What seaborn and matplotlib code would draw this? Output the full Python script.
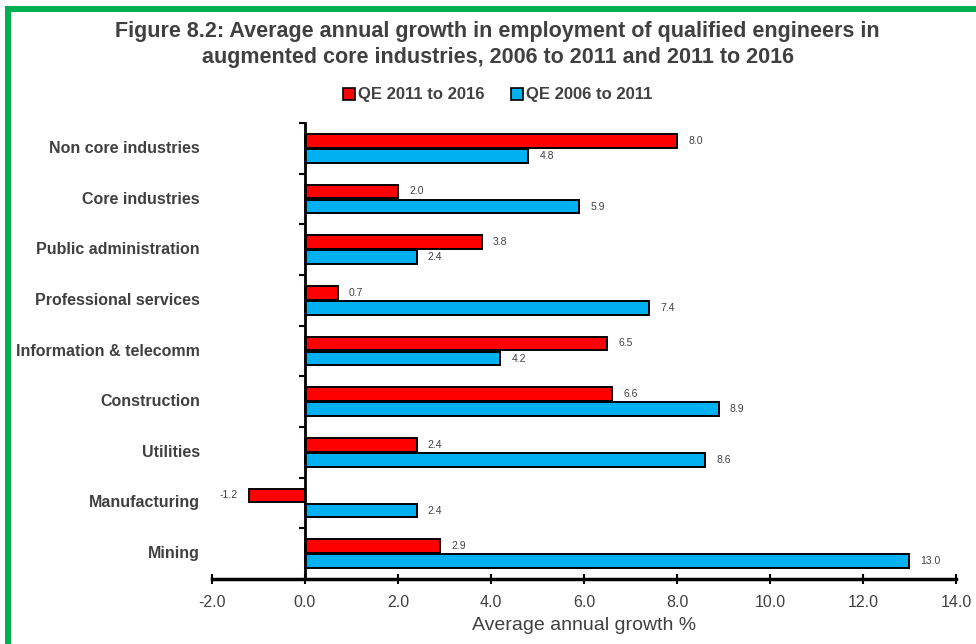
import matplotlib
matplotlib.use("Agg")
import matplotlib.pyplot as plt
from matplotlib.patches import Patch, Rectangle
import pandas as pd
import seaborn as sns

categories = ["Non core industries", "Core industries", "Public administration",
              "Professional services", "Information & telecomm", "Construction",
              "Utilities", "Manufacturing", "Mining"]
qe_2011_2016 = [8.0, 2.0, 3.8, 0.7, 6.5, 6.6, 2.4, -1.2, 2.9]
qe_2006_2011 = [4.8, 5.9, 2.4, 7.4, 4.2, 8.9, 8.6, 2.4, 13.0]
series_names = ["QE 2011 to 2016", "QE 2006 to 2011"]
x_ticks = [-2.0, 0.0, 2.0, 4.0, 6.0, 8.0, 10.0, 12.0, 14.0]

RED = "#FF0000"
BLUE = "#00B0F0"
TEXT = "#404040"

df = pd.DataFrame({
    "category": categories * 2,
    "series": [series_names[0]] * len(categories) + [series_names[1]] * len(categories),
    "value": qe_2011_2016 + qe_2006_2011,
})

sns.set_style("white")
plt.rcParams["font.family"] = ["Liberation Sans", "DejaVu Sans"]

fig = plt.figure(figsize=(9.76, 6.44), dpi=100)
ax = fig.add_axes([212 / 976, 1 - 579 / 644, (956 - 212) / 976, (579 - 123) / 644])

sns.barplot(data=df, y="category", x="value", hue="series", hue_order=series_names,
            order=categories, orient="h", palette=[RED, BLUE], saturation=1,
            width=0.6, gap=0.1, edgecolor="black", linewidth=1.4, legend=False, ax=ax)

for cont in ax.containers:
    ax.bar_label(cont, fmt="%.1f", padding=8, fontsize=7.5, color=TEXT)

ax.set_xlim(-2, 14)
ax.set_ylim(len(categories) - 0.5, -0.5)
ax.set_xticks(x_ticks)
ax.set_xticklabels([f"{v:.1f}" for v in x_ticks], fontsize=11.5, color=TEXT)
ax.set_yticks([i - 0.5 for i in range(len(categories) + 1)])
ax.set_yticklabels([])
ax.tick_params(axis="y", length=4, width=1.5, direction="out", color="black", left=True)
ax.tick_params(axis="x", length=7, width=1.5, direction="inout", color="black",
               bottom=True, pad=8)

for side in ("top", "right"):
    ax.spines[side].set_visible(False)
ax.spines["left"].set_position(("data", 0))
ax.spines["left"].set_linewidth(2)
ax.spines["left"].set_color("black")
ax.spines["bottom"].set_linewidth(2.5)
ax.spines["bottom"].set_color("black")
ax.grid(False)

ax.set_ylabel("")
ax.set_xlabel("Average annual growth %", fontsize=14, color=TEXT, labelpad=5)

for i, name in enumerate(categories):
    ax.text(-0.016, i, name, transform=ax.get_yaxis_transform(), ha="right", va="center",
            fontsize=11.5, color=TEXT, fontweight="bold")

fig.text(0.51, 1 - 32 / 644, "Figure 8.2: Average annual growth in employment of qualified engineers in",
         ha="center", va="center", fontsize=15.5, fontweight="bold", color=TEXT)
fig.text(0.51, 1 - 57 / 644, "augmented core industries, 2006 to 2011 and 2011 to 2016",
         ha="center", va="center", fontsize=15.5, fontweight="bold", color=TEXT)

handles = [Patch(facecolor=RED, edgecolor="black", linewidth=1.2),
           Patch(facecolor=BLUE, edgecolor="black", linewidth=1.2)]
fig.legend(handles, series_names, loc="center", bbox_to_anchor=(0.51, 1 - 95 / 644),
           ncol=2, frameon=False, prop={"size": 12, "weight": "bold"},
           handlelength=0.7, handleheight=0.7, handletextpad=0.2, columnspacing=1.6,
           labelcolor=TEXT)

# green frame along the top and left edges
fig.patches.append(Rectangle((5 / 976, 0), 6 / 976, 1 - 6 / 644, transform=fig.transFigure,
                             facecolor="#00B050", edgecolor="none"))
fig.patches.append(Rectangle((5 / 976, 1 - 12 / 644), 1, 6 / 644, transform=fig.transFigure,
                             facecolor="#00B050", edgecolor="none"))

fig.savefig("out.png", dpi=100)
